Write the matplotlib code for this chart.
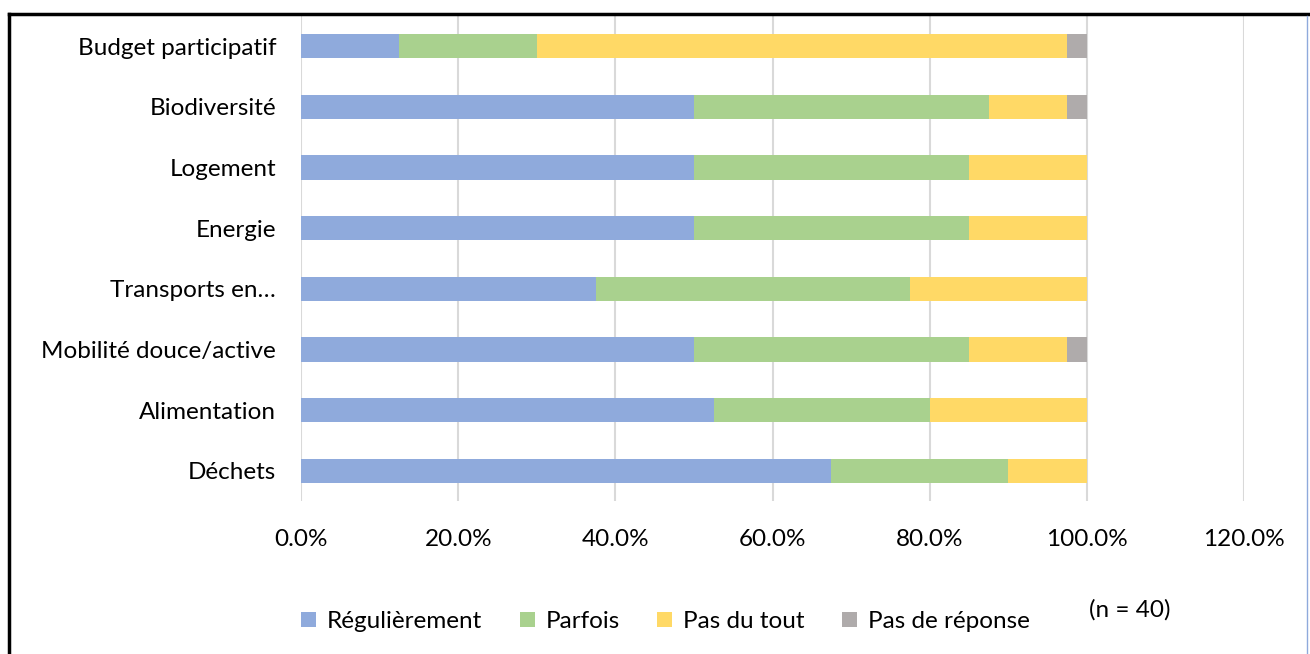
import matplotlib.pyplot as plt
import numpy as np

# Données (n = 40), en %
categories = ['Budget participatif', 'Biodiversité', 'Logement', 'Energie',
              'Transports en…', 'Mobilité douce/active', 'Alimentation', 'Déchets']
regulierement = [12.5, 50.0, 50.0, 50.0, 37.5, 50.0, 52.5, 67.5]
parfois = [17.5, 37.5, 35.0, 35.0, 40.0, 35.0, 27.5, 22.5]
pas_du_tout = [67.5, 10.0, 15.0, 15.0, 22.5, 12.5, 20.0, 10.0]
pas_de_reponse = [2.5, 2.5, 0.0, 0.0, 0.0, 2.5, 0.0, 0.0]

series = ['Régulièrement', 'Parfois', 'Pas du tout', 'Pas de réponse']
couleurs = ['#8FAADC', '#A9D18E', '#FFD966', '#AFABAB']
ticks = [0, 20, 40, 60, 80, 100, 120]

plt.rcParams['font.family'] = ['Lato', 'DejaVu Sans']
fs = 17.5

fig = plt.figure(figsize=(13.1, 6.54), dpi=100)
ax = fig.add_axes([0.2298, 0.234, 0.7198, 0.7415])

y = np.arange(len(categories))[::-1]
gauche = np.zeros(len(categories))
for valeurs, nom, c in zip([regulierement, parfois, pas_du_tout, pas_de_reponse], series, couleurs):
    ax.barh(y, valeurs, 0.4, left=gauche, color=c, label=nom, zorder=3)
    gauche += np.array(valeurs)

ax.set_xlim(0, 120)
ax.set_ylim(-0.5, len(categories) - 0.5)
ax.set_xticks(ticks)
ax.set_xticklabels([f'{t:.1f}%' for t in ticks])
ax.set_yticks(y)
ax.set_yticklabels(categories)
ax.tick_params(axis='both', length=0, labelsize=fs, colors='#000000')
ax.tick_params(axis='x', pad=20)
ax.tick_params(axis='y', pad=18)
ax.grid(axis='x', color='#D9D9D9', linewidth=1.5, zorder=0)
for s in ax.spines.values():
    s.set_visible(False)

fig.legend(loc='center', bbox_to_anchor=(0.508, 0.05), ncol=4, frameon=False,
           fontsize=fs, handlelength=0.6, handleheight=0.6, handletextpad=0.45,
           columnspacing=1.55)
fig.text(0.8625, 0.067, '(n = 40)', fontsize=fs, ha='center', va='center')

# cadre extérieur
fig.add_artist(plt.Line2D([9 / 1310, 1], [1 - 14 / 654, 1 - 14 / 654], color='black', linewidth=2.5))
fig.add_artist(plt.Line2D([9 / 1310, 9 / 1310], [0, 1 - 14 / 654], color='black', linewidth=2.5))
fig.add_artist(plt.Line2D([1307 / 1310, 1307 / 1310], [0, 1 - 16 / 654], color='#8FAADC', linewidth=1))

fig.savefig('out.png', dpi=100)
